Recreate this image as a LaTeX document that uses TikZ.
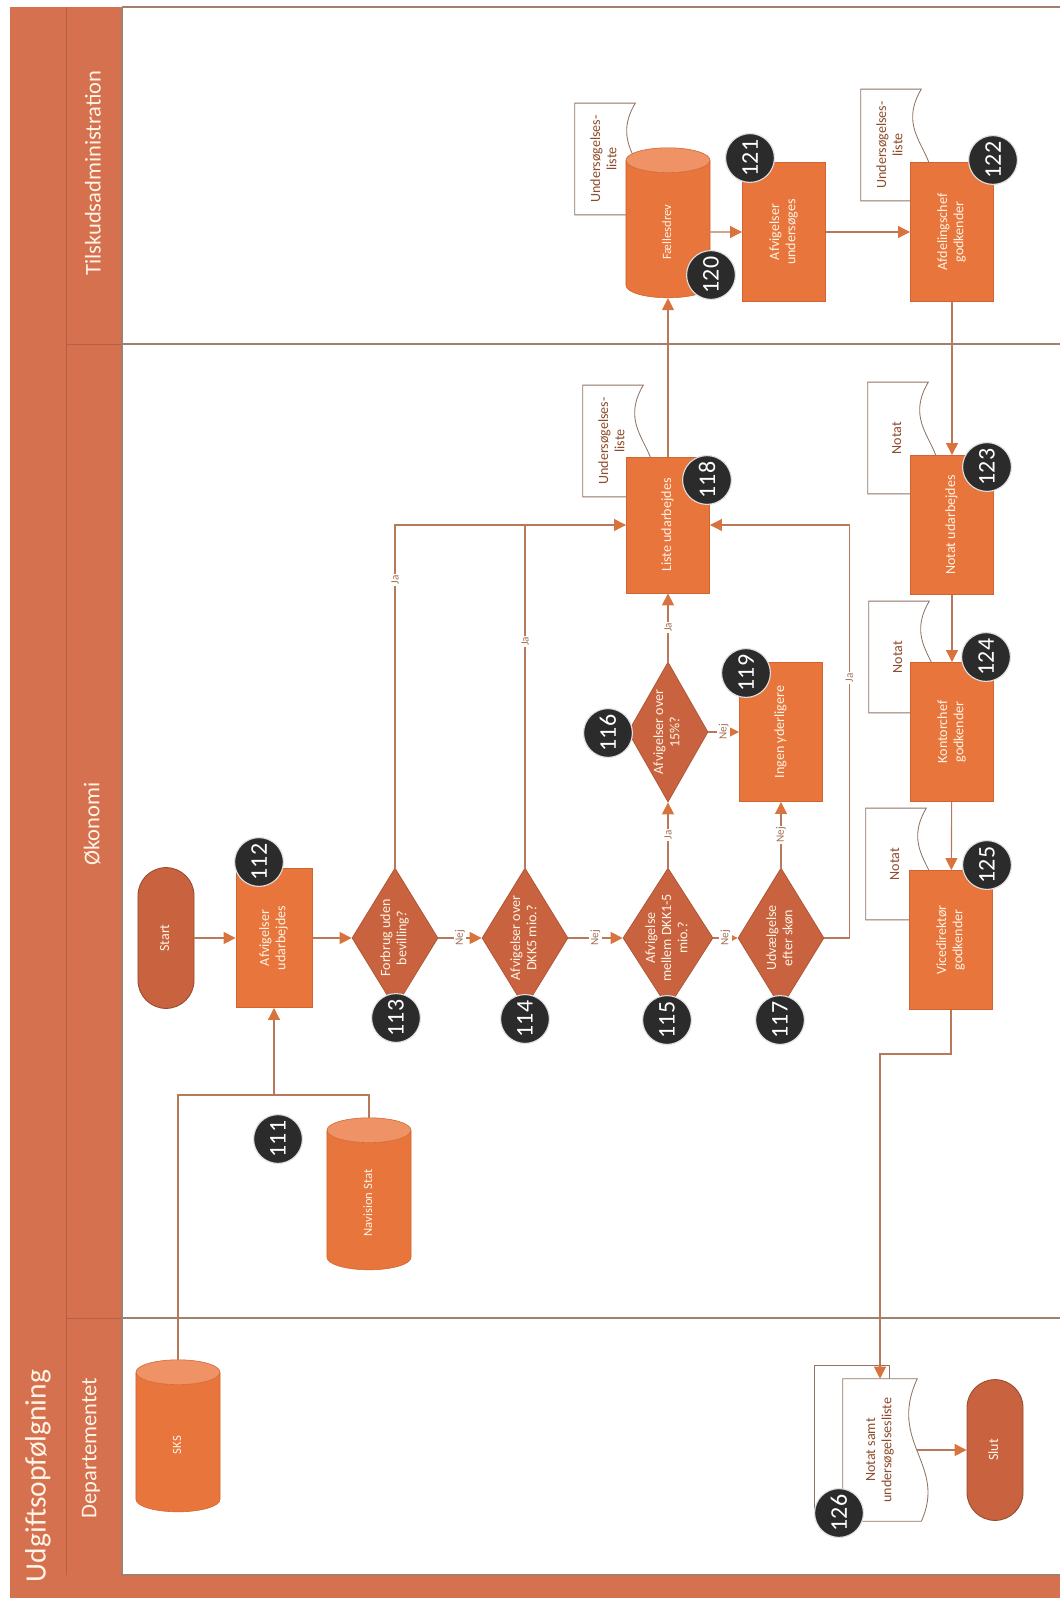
\documentclass[tikz,border=0pt]{standalone}
\usepackage{fontspec}
\setmainfont{Carlito}
\usepackage{graphicx}
\usetikzlibrary{arrows.meta,shapes.geometric,calc,backgrounds}
\definecolor{LaneRust}{HTML}{D5714F}
\definecolor{LaneEdge}{HTML}{A2806F}
\definecolor{StepOrange}{HTML}{E8753C}
\definecolor{StepEdge}{HTML}{D0652F}
\definecolor{AskRust}{HTML}{C9633F}
\definecolor{EndRust}{HTML}{C8623F}
\definecolor{CapOrange}{HTML}{EF9265}
\definecolor{BadgeInk}{HTML}{2B2B2B}
\definecolor{FlowLine}{HTML}{B8785A}
\definecolor{FlowTip}{HTML}{D9733D}
\definecolor{DocInk}{HTML}{8E4B2C}
\definecolor{DocEdge}{HTML}{8F7465}
\definecolor{PaleText}{HTML}{FFF4E6}
\newcommand{\rt}[1]{\rotatebox{90}{\begin{tabular}{@{}c@{}}#1\end{tabular}}}
\tikzset{
  lanetext/.style={font=\fontsize{16}{18}\selectfont, text=PaleText, rotate=90},
  titletext/.style={font=\fontsize{21}{23}\selectfont, text=PaleText, rotate=90},
  stepbox/.style={rectangle, fill=StepOrange, draw=StepEdge, line width=0.5pt, minimum width=2.08cm, minimum height=3.48cm, inner sep=1pt, text=PaleText, font=\fontsize{10}{11.5}\selectfont},
  askbox/.style={diamond, fill=AskRust, draw=AskRust!85!black, line width=0.5pt, minimum width=2.15cm, minimum height=3.5cm, inner sep=0pt},
  asktext/.style={text=PaleText, font=\fontsize{10}{11.5}\selectfont, inner sep=0pt},
  endbox/.style={rectangle, rounded corners=0.7cm, fill=EndRust, draw=EndRust!75!black, line width=0.6pt, minimum width=1.4cm, minimum height=3.52cm, text=PaleText, font=\fontsize{10}{11.5}\selectfont},
  storebox/.style={cylinder, shape border rotate=90, aspect=1, cylinder uses custom fill, cylinder body fill=StepOrange, cylinder end fill=CapOrange, draw=StepEdge, line width=0.4pt, minimum width=2.1cm, minimum height=3.8cm, text=PaleText, font=\fontsize{9}{11}\selectfont},
  docnode/.style={rectangle, inner sep=0pt, minimum width=1.5cm, minimum height=2.78cm, text=DocInk, font=\fontsize{10}{11.5}\selectfont},
  docline/.style={draw=DocEdge, fill=white, line width=0.6pt},
  badge/.style={circle, fill=BadgeInk, draw=white!75!gray, line width=0.8pt, minimum size=1.22cm, inner sep=0pt, text=white, font=\fontsize{17}{17}\selectfont, rotate=90},
  flow/.style={-{Triangle[length=0.3cm,width=0.3cm,color=FlowTip]}, draw=FlowLine, line width=0.8pt},
  flowline/.style={draw=FlowLine, line width=0.8pt},
  yn/.style={fill=white, inner sep=1pt, text=DocInk!80, font=\fontsize{8}{8}\selectfont, rotate=90},
  laneline/.style={draw=LaneEdge, line width=1.2pt}
}
\newcommand{\docwave}[1]{%
  \draw[docline] (#1.north west) -- (#1.north east)
    .. controls ($(#1.north east)!0.45!(#1.south east)+(-30,0)$) and ($(#1.north east)!0.6!(#1.south east)+(30,0)$) .. ($(#1.south east)+(4,0)$)
    -- (#1.south west) -- cycle;}

\begin{document}
\begin{tikzpicture}[x=0.025cm, y=-0.025cm]
\useasboundingbox (0,0) rectangle (1060,1598);
% swimlane frame
\fill[LaneRust] (10,7) rectangle (122,1598);
\fill[LaneRust] (122,1575) rectangle (1060,1598);
\draw[LaneRust!85!black, line width=0.6pt] (66,7) -- (66,1575) (66,344) -- (122,344) (66,1318) -- (122,1318);
\draw[laneline] (122,7) -- (1060,7) (122,344) -- (1060,344) (122,1318) -- (1060,1318);
\draw[laneline] (122,7) -- (122,1575) -- (1060,1575);
\node[titletext] (title) at (38,1476) {Udgiftsopfølgning};
\node[lanetext] (lane1) at (93,173) {Tilskudsadministration};
\node[lanetext] (lane2) at (92,824) {Økonomi};
\node[lanetext] (lane3) at (91,1448) {Departementet};

% documents
\node[docnode] (u120) at (605,159) {\rt{Undersøgelses-\\liste}};
\node[docnode] (u122) at (891,145) {\rt{Undersøgelses-\\liste}};
\node[docnode] (u118) at (613,441) {\rt{Undersøgelses-\\liste}};
\node[docnode] (n123) at (898,438) {\rt{Notat}};
\node[docnode] (n124) at (899,657) {\rt{Notat}};
\node[docnode] (n125) at (896,864) {\rt{Notat}};
\node[docnode, minimum width=1.85cm, minimum height=3.55cm] (n126) at (880,1450) {\rt{Notat samt\\undersøgelsesliste}};
\begin{scope}[on background layer]
  \docwave{u120} \docwave{u122} \docwave{u118}
  \docwave{n123} \docwave{n124} \docwave{n125}
  \draw[docline] ($(n126.north west)+(-28,-13)$) rectangle ($(n126.south east)+(-28,-13)$);
  \docwave{n126}
\end{scope}

% steps
\node[endbox] (nstart) at (166,938) {\rt{Start}};
\node[stepbox, minimum width=1.9cm] (a112) at (274,938) {\rt{Afvigelser\\udarbejdes}};
\node[askbox, label={[asktext]center:\rt{Forbrug uden\\bevilling?}}] (d113) at (395,938) {};
\node[askbox, label={[asktext]center:\rt{Afvigelser over\\DKK5 mio.?}}] (d114) at (525,938) {};
\node[askbox, minimum width=2.25cm, label={[asktext]center:\rt{Afvigelse\\mellem DKK1-5\\mio.?}}] (d115) at (668,938) {};
\node[askbox, label={[asktext]center:\rt{Udvælgelse\\efter skøn}}] (d117) at (781,938) {};
\node[askbox, minimum width=2cm, label={[asktext]center:\rt{Afvigelser over\\15\%?}}] (d116) at (668,732) {};
\node[stepbox] (b119) at (781,732) {\rt{Ingen yderligere}};
\node[stepbox, minimum height=3.4cm] (b118) at (668,525) {\rt{Liste udarbejdes}};
\node[storebox, minimum height=3.75cm] (c120) at (668,232) {\rt{Fællesdrev}};
\node[stepbox] (b121) at (784,232) {\rt{Afvigelser\\undersøges}};
\node[stepbox] (b122) at (952,232) {\rt{Afdelingschef\\godkender}};
\node[stepbox] (b123) at (952,525) {\rt{Notat udarbejdes}};
\node[stepbox] (b124) at (952,732) {\rt{Kontorchef\\godkender}};
\node[stepbox] (b125) at (951,940) {\rt{Vicedirektør\\godkender}};
\node[storebox] (nav) at (369,1203) {\rt{Navision Stat}};
\node[storebox] (sks) at (178,1445) {\rt{SKS}};
\node[endbox] (slut) at (995,1450) {\rt{Slut}};

% connectors
\coordinate (j111) at ($(a112.south)+(0,87)$);
\draw[flowline] (sks.north) |- (j111);
\draw[flowline] (nav.north) |- (j111);
\draw[flow] (j111) -- (a112.south);
\draw[flow] (nstart) -- (a112);
\draw[flow] (a112) -- (d113);
\draw[flow] (d113) -- node[yn]{Nej} (d114);
\draw[flow] (d114) -- node[yn]{Nej} (d115);
\draw[flow] (d115) -- node[yn]{Nej} (d117);
\draw[flow] (d113.north) |- node[yn, pos=0.42]{Ja} (b118.west);
\draw[flowline] (d114.north) -- node[yn, pos=0.66]{Ja} (d114.north |- b118.west);
\draw[flow] (d115) -- node[yn]{Ja} (d116);
\draw[flow] (d116) -- node[yn]{Ja} (b118);
\draw[flow] (d116) -- node[yn]{Nej} (b119);
\draw[flow] (d117) -- node[yn]{Nej} (b119);
\draw[flow] (d117.east) -- ++(25,0) |- node[yn, pos=0.315]{Ja} (b118.east);
\draw[flow] (b118) -- (c120);
\draw[flow] (c120) -- (b121);
\draw[flow] (b121) -- (b122);
\draw[flow] (b122) -- (b123);
\draw[flow] (b123) -- (b124);
\draw[flow] (b124) -- (b125);
\draw[flow] (b125.south) -- ++(0,44) -| (n126.north);
\draw[flow] (n126.east) -- (slut.west);

% numbers
\node[badge] (k111) at (278,1139) {111};
\node[badge] (k112) at (259,862) {112};
\node[badge] (k113) at (396,1018) {113};
\node[badge] (k114) at (525,1019) {114};
\node[badge] (k115) at (667,1020) {115};
\node[badge] (k116) at (608,733) {116};
\node[badge] (k117) at (780,1020) {117};
\node[badge] (k118) at (707,480) {118};
\node[badge] (k119) at (746,673) {119};
\node[badge] (k120) at (711,275) {120};
\node[badge] (k121) at (750,158) {121};
\node[badge] (k122) at (993,160) {122};
\node[badge] (k123) at (987,467) {123};
\node[badge] (k124) at (986,657) {124};
\node[badge] (k125) at (987,865) {125};
\node[badge] (k126) at (839,1513) {126};
\end{tikzpicture}
\end{document}
